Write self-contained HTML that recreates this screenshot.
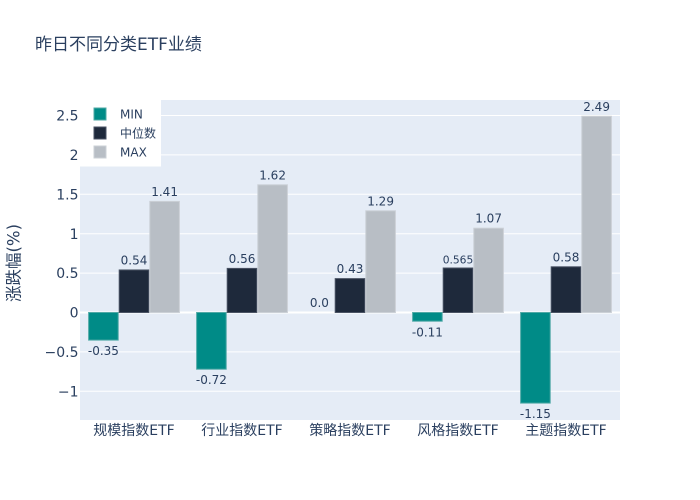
<!DOCTYPE html>
<html><head><meta charset="utf-8"><style>
html,body{margin:0;padding:0;background:#fff;}
svg{display:block;}
text{font-family:"DejaVu Sans","Noto Sans CJK SC",sans-serif;fill:#2a3f5f;}
</style></head><body>
<svg width="700" height="500" viewBox="0 0 700 500" xmlns="http://www.w3.org/2000/svg">
<rect x="0" y="0" width="700" height="500" fill="#fff"/>
<rect x="80" y="100" width="540" height="320" fill="#E5ECF6"/>
<g stroke="#fff" stroke-width="1">
<line x1="80" x2="620" y1="391.3" y2="391.3"/>
<line x1="80" x2="620" y1="351.9" y2="351.9"/>
<line x1="80" x2="620" y1="273.1" y2="273.1"/>
<line x1="80" x2="620" y1="233.7" y2="233.7"/>
<line x1="80" x2="620" y1="194.3" y2="194.3"/>
<line x1="80" x2="620" y1="154.9" y2="154.9"/>
<line x1="80" x2="620" y1="115.5" y2="115.5"/>
</g>
<line x1="80" x2="620" y1="312.5" y2="312.5" stroke="#fff" stroke-width="2"/>
<!-- bars -->
<g stroke-width="1">
<!-- group 1 -->
<rect x="88.6" y="312.5" width="29.6" height="27.6" fill="#008B87" stroke="#4fa9a6"/>
<rect x="119.2" y="269.95" width="29.6" height="42.55" fill="#1E293B" stroke="#4a5364"/>
<rect x="149.8" y="201.4" width="29.6" height="111.1" fill="#B8BEC5" stroke="#cbd0d6"/>
<!-- group 2 -->
<rect x="196.6" y="312.5" width="29.6" height="56.7" fill="#008B87" stroke="#4fa9a6"/>
<rect x="227.2" y="268.4" width="29.6" height="44.1" fill="#1E293B" stroke="#4a5364"/>
<rect x="257.8" y="184.8" width="29.6" height="127.7" fill="#B8BEC5" stroke="#cbd0d6"/>
<!-- group 3 -->
<rect x="335.2" y="278.6" width="29.6" height="33.9" fill="#1E293B" stroke="#4a5364"/>
<rect x="365.8" y="210.8" width="29.6" height="101.7" fill="#B8BEC5" stroke="#cbd0d6"/>
<!-- group 4 -->
<rect x="412.6" y="312.5" width="29.6" height="8.7" fill="#008B87" stroke="#4fa9a6"/>
<rect x="443.2" y="268.0" width="29.6" height="44.5" fill="#1E293B" stroke="#4a5364"/>
<rect x="473.8" y="228.2" width="29.6" height="84.3" fill="#B8BEC5" stroke="#cbd0d6"/>
<!-- group 5 -->
<rect x="520.6" y="312.5" width="29.6" height="90.6" fill="#008B87" stroke="#4fa9a6"/>
<rect x="551.2" y="266.8" width="29.6" height="45.7" fill="#1E293B" stroke="#4a5364"/>
<rect x="581.8" y="116.3" width="29.6" height="196.2" fill="#B8BEC5" stroke="#cbd0d6"/>
</g>
<!-- bar labels -->
<g font-size="12" text-anchor="middle">
<text x="103.4" y="355.1">-0.35</text>
<text x="134" y="264.4">0.54</text>
<text x="164.6" y="195.9">1.41</text>
<text x="211.4" y="384.2">-0.72</text>
<text x="242" y="262.9">0.56</text>
<text x="272.6" y="179.3">1.62</text>
<text x="319.4" y="307.2">0.0</text>
<text x="350" y="273.1">0.43</text>
<text x="380.6" y="205.3">1.29</text>
<text x="427.4" y="336.5">-0.11</text>
<text x="458" y="263.3" font-size="10.7">0.565</text>
<text x="488.6" y="222.7">1.07</text>
<text x="535.4" y="418.2">-1.15</text>
<text x="566" y="261.3">0.58</text>
<text x="596.6" y="110.8">2.49</text>
</g>
<!-- y ticks -->
<g font-size="14" text-anchor="end">
<text x="78.5" y="120.6">2.5</text>
<text x="78.5" y="160.0">2</text>
<text x="78.5" y="199.4">1.5</text>
<text x="78.5" y="238.8">1</text>
<text x="78.5" y="278.2">0.5</text>
<text x="78.5" y="317.6">0</text>
<text x="78.5" y="357.0">−0.5</text>
<text x="78.5" y="396.4">−1</text>
</g>
<!-- x ticks -->
<g font-size="14" text-anchor="middle">
<text x="134" y="435">规模指数ETF</text>
<text x="242" y="435">行业指数ETF</text>
<text x="350" y="435">策略指数ETF</text>
<text x="458" y="435">风格指数ETF</text>
<text x="566" y="435">主题指数ETF</text>
</g>
<!-- y title -->
<text x="0" y="0" font-size="16.5" text-anchor="middle" transform="translate(19.5,263) rotate(-90)">涨跌幅(%)</text>
<!-- title -->
<text x="35" y="50" font-size="17">昨日不同分类ETF业绩</text>
<!-- legend -->
<rect x="80" y="100" width="81" height="66.5" fill="#fff"/>
<rect x="94" y="108" width="12" height="12" fill="#008B87" stroke="#4fa9a6" stroke-width="1"/>
<rect x="94" y="127" width="12" height="12" fill="#1E293B" stroke="#4a5364" stroke-width="1"/>
<rect x="94" y="146" width="12" height="12" fill="#B8BEC5" stroke="#cbd0d6" stroke-width="1"/>
<g font-size="12">
<text x="120" y="118.5">MIN</text>
<text x="120" y="137.5">中位数</text>
<text x="120" y="156.5">MAX</text>
</g>
</svg>
</body></html>
